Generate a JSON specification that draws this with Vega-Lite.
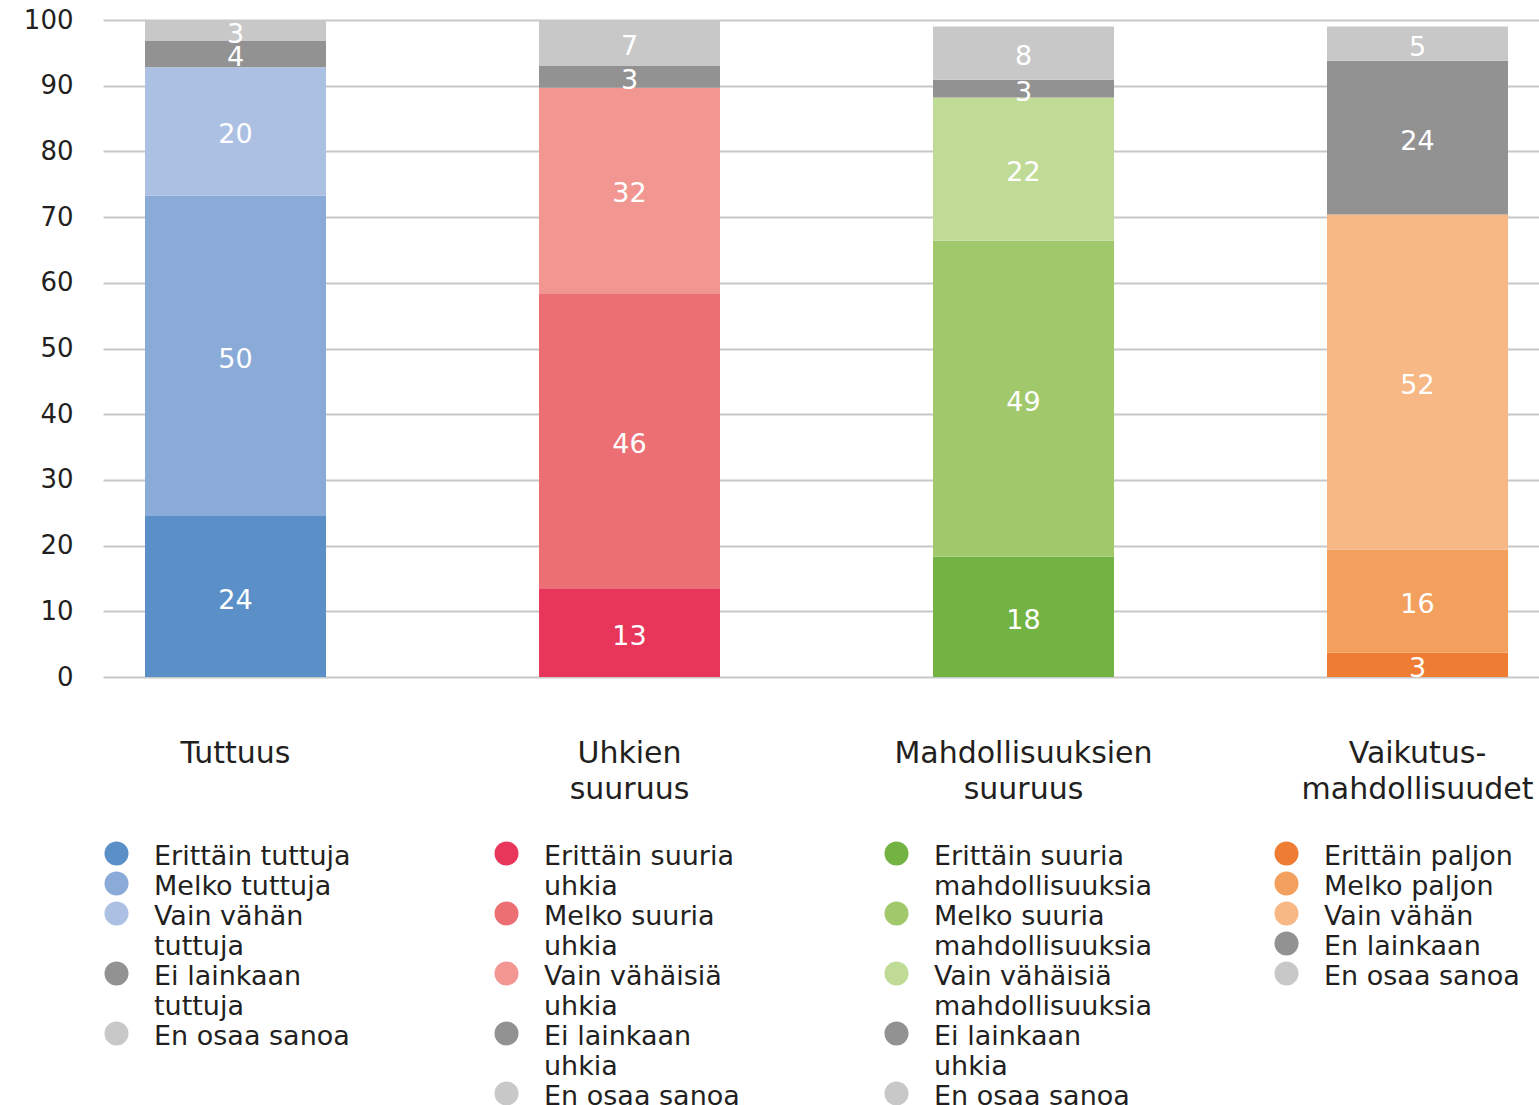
{
  "$schema": "https://vega.github.io/schema/vega-lite/v6.json",
  "width": 1447,
  "height": 657,
  "autosize": {"type": "none"},
  "padding": {"left": 103, "top": 20, "right": 0, "bottom": 428},
  "background": "white",
  "config": {
    "view": {"stroke": null},
    "font": "DejaVu Sans",
    "legend": {
      "orient": "none",
      "direction": "vertical",
      "padding": 0,
      "labelFont": "DejaVu Sans",
      "labelFontSize": 27,
      "labelColor": "#231f20",
      "labelBaseline": "top",
      "labelOffset": 24,
      "labelLimit": 400,
      "symbolType": "circle",
      "symbolSize": 576,
      "symbolStrokeWidth": 0,
      "symbolOpacity": 1,
      "rowPadding": -2,
      "titlePadding": 0
    }
  },
  "data": {
    "values": [
      {"g": "Tuttuus", "cat": "Erittäin tuttuja", "k": 1, "v": 24.5, "lab": "24"},
      {"g": "Tuttuus", "cat": "Melko tuttuja", "k": 2, "v": 48.8, "lab": "50"},
      {"g": "Tuttuus", "cat": "Vain vähän tuttuja", "k": 3, "v": 19.5, "lab": "20"},
      {"g": "Tuttuus", "cat": "Ei lainkaan tuttuja", "k": 4, "v": 4.0, "lab": "4"},
      {"g": "Tuttuus", "cat": "En osaa sanoa", "k": 5, "v": 3.2, "lab": "3"},
      {"g": "Uhkien suuruus", "cat": "Erittäin suuria uhkia", "k": 1, "v": 13.5, "lab": "13"},
      {"g": "Uhkien suuruus", "cat": "Melko suuria uhkia", "k": 2, "v": 44.9, "lab": "46"},
      {"g": "Uhkien suuruus", "cat": "Vain vähäisiä uhkia", "k": 3, "v": 31.3, "lab": "32"},
      {"g": "Uhkien suuruus", "cat": "Ei lainkaan uhkia", "k": 4, "v": 3.3, "lab": "3"},
      {"g": "Uhkien suuruus", "cat": "En osaa sanoa", "k": 5, "v": 7.0, "lab": "7"},
      {"g": "Mahdollisuuksien suuruus", "cat": "Erittäin suuria mahdollisuuksia", "k": 1, "v": 18.3, "lab": "18"},
      {"g": "Mahdollisuuksien suuruus", "cat": "Melko suuria mahdollisuuksia", "k": 2, "v": 48.1, "lab": "49"},
      {"g": "Mahdollisuuksien suuruus", "cat": "Vain vähäisiä mahdollisuuksia", "k": 3, "v": 21.8, "lab": "22"},
      {"g": "Mahdollisuuksien suuruus", "cat": "Ei lainkaan uhkia", "k": 4, "v": 2.7, "lab": "3"},
      {"g": "Mahdollisuuksien suuruus", "cat": "En osaa sanoa", "k": 5, "v": 8.1, "lab": "8"},
      {"g": "Vaikutus-mahdollisuudet", "cat": "Erittäin paljon", "k": 1, "v": 3.7, "lab": "3"},
      {"g": "Vaikutus-mahdollisuudet", "cat": "Melko paljon", "k": 2, "v": 15.7, "lab": "16"},
      {"g": "Vaikutus-mahdollisuudet", "cat": "Vain vähän", "k": 3, "v": 51.0, "lab": "52"},
      {"g": "Vaikutus-mahdollisuudet", "cat": "En lainkaan", "k": 4, "v": 23.4, "lab": "24"},
      {"g": "Vaikutus-mahdollisuudet", "cat": "En osaa sanoa", "k": 5, "v": 5.2, "lab": "5"}
    ]
  },
  "encoding": {
    "x": {
      "field": "g",
      "type": "nominal",
      "sort": ["Tuttuus", "Uhkien suuruus", "Mahdollisuuksien suuruus", "Vaikutus-mahdollisuudet"],
      "scale": {"paddingInner": 0.5406, "paddingOuter": 0.1066},
      "title": null,
      "axis": {
        "orient": "bottom",
        "domain": false,
        "ticks": false,
        "grid": false,
        "labelAngle": 0,
        "labelFont": "DejaVu Sans",
        "labelFontSize": 30,
        "labelColor": "#231f20",
        "labelBaseline": "top",
        "labelPadding": 61,
        "labelLineHeight": 36,
        "labelLimit": 400,
        "labelExpr": "datum.label == 'Vaikutus-mahdollisuudet' ? ['Vaikutus-', 'mahdollisuudet'] : split(datum.label, ' ')"
      }
    },
    "y": {
      "field": "v",
      "type": "quantitative",
      "stack": "zero",
      "scale": {"domain": [0, 100], "nice": false},
      "title": null,
      "axis": {
        "values": [0, 10, 20, 30, 40, 50, 60, 70, 80, 90, 100],
        "domain": false,
        "ticks": false,
        "grid": true,
        "gridColor": "#c8c8c8",
        "gridWidth": 2,
        "labelFont": "DejaVu Sans",
        "labelFontSize": 26,
        "labelColor": "#231f20",
        "labelPadding": 30,
        "labelBaseline": "middle"
      }
    },
    "order": {"field": "k", "type": "quantitative"}
  },
  "layer": [
    {
      "transform": [{"filter": "datum.g == 'Tuttuus'"}],
      "mark": {"type": "bar"},
      "encoding": {
        "color": {
          "field": "cat",
          "type": "nominal",
          "scale": {
            "domain": ["Erittäin tuttuja", "Melko tuttuja", "Vain vähän tuttuja", "Ei lainkaan tuttuja", "En osaa sanoa"],
            "range": ["#5b8fc7", "#8aaad8", "#abc0e3", "#929292", "#c8c8c8"]
          },
          "legend": {
            "title": null,
            "legendX": 0,
            "legendY": 820,
            "labelExpr": "length(datum.label) > 16 ? [substring(datum.label, 0, lastindexof(datum.label, ' ')), substring(datum.label, lastindexof(datum.label, ' ') + 1)] : datum.label",
            "encoding": {"labels": {"dy": {"value": -9.5}, "lineHeight": {"value": 30}}}
          }
        }
      }
    },
    {
      "transform": [{"filter": "datum.g == 'Uhkien suuruus'"}],
      "mark": {"type": "bar"},
      "encoding": {
        "color": {
          "field": "cat",
          "type": "nominal",
          "scale": {
            "domain": ["Erittäin suuria uhkia", "Melko suuria uhkia", "Vain vähäisiä uhkia", "Ei lainkaan uhkia", "En osaa sanoa"],
            "range": ["#e8365a", "#ec6f74", "#f29692", "#929292", "#c8c8c8"]
          },
          "legend": {
            "title": null,
            "legendX": 390,
            "legendY": 820,
            "labelExpr": "length(datum.label) > 16 ? [substring(datum.label, 0, lastindexof(datum.label, ' ')), substring(datum.label, lastindexof(datum.label, ' ') + 1)] : datum.label",
            "encoding": {"labels": {"dy": {"value": -9.5}, "lineHeight": {"value": 30}}}
          }
        }
      }
    },
    {
      "transform": [{"filter": "datum.g == 'Mahdollisuuksien suuruus'"}],
      "mark": {"type": "bar"},
      "encoding": {
        "color": {
          "field": "cat",
          "type": "nominal",
          "scale": {
            "domain": ["Erittäin suuria mahdollisuuksia", "Melko suuria mahdollisuuksia", "Vain vähäisiä mahdollisuuksia", "Ei lainkaan uhkia", "En osaa sanoa"],
            "range": ["#72b344", "#a1c96c", "#c0db96", "#929292", "#c8c8c8"]
          },
          "legend": {
            "title": null,
            "legendX": 780,
            "legendY": 820,
            "labelExpr": "length(datum.label) > 16 ? [substring(datum.label, 0, lastindexof(datum.label, ' ')), substring(datum.label, lastindexof(datum.label, ' ') + 1)] : datum.label",
            "encoding": {"labels": {"dy": {"value": -9.5}, "lineHeight": {"value": 30}}}
          }
        }
      }
    },
    {
      "transform": [{"filter": "datum.g == 'Vaikutus-mahdollisuudet'"}],
      "mark": {"type": "bar"},
      "encoding": {
        "color": {
          "field": "cat",
          "type": "nominal",
          "scale": {
            "domain": ["Erittäin paljon", "Melko paljon", "Vain vähän", "En lainkaan", "En osaa sanoa"],
            "range": ["#ee7c32", "#f3a05e", "#f7b886", "#929292", "#c8c8c8"]
          },
          "legend": {
            "title": null,
            "legendX": 1170,
            "legendY": 820,
            "labelExpr": "length(datum.label) > 16 ? [substring(datum.label, 0, lastindexof(datum.label, ' ')), substring(datum.label, lastindexof(datum.label, ' ') + 1)] : datum.label",
            "encoding": {"labels": {"dy": {"value": -9.5}, "lineHeight": {"value": 30}}}
          }
        }
      }
    },
    {
      "mark": {"type": "text", "baseline": "middle", "align": "center", "dy": 4, "font": "DejaVu Sans", "fontSize": 27, "color": "white"},
      "encoding": {
        "text": {"field": "lab"},
        "detail": {"field": "cat"},
        "y": {"field": "v", "type": "quantitative", "stack": "zero", "bandPosition": 0.5}
      }
    }
  ],
  "resolve": {"scale": {"color": "independent"}}
}
